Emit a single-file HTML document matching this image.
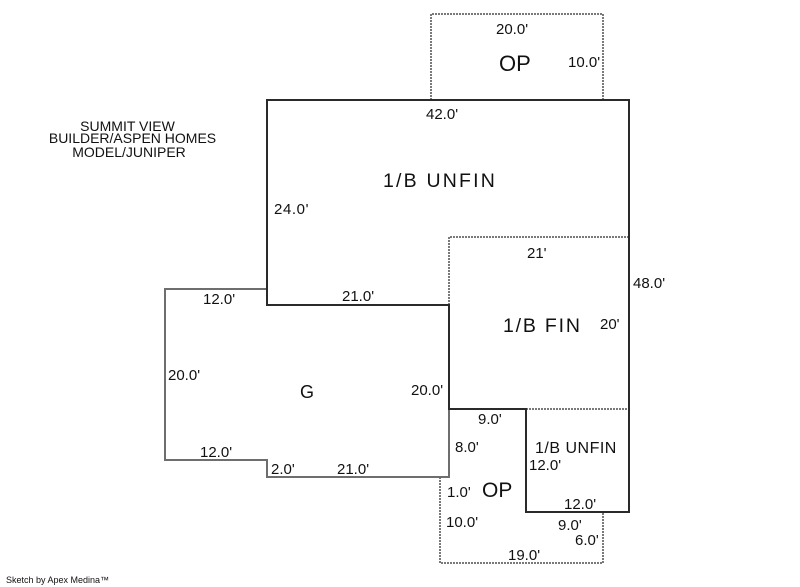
<!DOCTYPE html>
<html>
<head>
<meta charset="utf-8">
<style>
  html,body{margin:0;padding:0;background:#fff;}
  svg{display:block;}
  text{font-family:"Liberation Sans", Arial, sans-serif; fill:#111;}
  .d{font-size:15px;}
  .big{font-size:19.5px; letter-spacing:2.2px;}
  .t{font-size:14px;}
</style>
</head>
<body>
<svg width="800" height="587" viewBox="0 0 800 587" xmlns="http://www.w3.org/2000/svg">
  <rect width="800" height="587" fill="#fff"/>
  <!-- dotted lines -->
  <g fill="none" stroke="#7a7a7a" stroke-width="2" stroke-dasharray="2 1">
    <path d="M431,100 V14 H603 V100"/>
    <path d="M449,305 V237 H629"/>
    <path d="M526,409 H629"/>
    <path d="M440,477 V563 H603 V512"/>
  </g>
  <!-- garage gray -->
  <path d="M267,289 H165 V460 H267 V477 H449 V409" fill="none" stroke="#6e6e6e" stroke-width="2"/>
  <!-- main outline -->
  <path d="M267,100 H629 V512 H526 V409 H449 V305 H267 Z" fill="none" stroke="#2a2a2a" stroke-width="2"/>

  <!-- title text -->
  <text class="t" x="127.5" y="131" text-anchor="middle">SUMMIT VIEW</text>
  <text class="t" x="132.5" y="143" text-anchor="middle">BUILDER/ASPEN HOMES</text>
  <text class="t" x="129" y="157" text-anchor="middle">MODEL/JUNIPER</text>

  <!-- top OP -->
  <text class="d" x="496" y="34">20.0'</text>
  <text x="499" y="71" style="font-size:22px">OP</text>
  <text class="d" x="568" y="67">10.0'</text>

  <!-- main -->
  <text class="d" x="426" y="119">42.0'</text>
  <text class="big" x="383" y="187">1/B UNFIN</text>
  <text class="d" x="274" y="214" style="letter-spacing:0.6px">24.0'</text>
  <text class="d" x="527" y="258">21'</text>
  <text class="d" x="633" y="288">48.0'</text>
  <text class="big" x="503" y="332" style="letter-spacing:1.8px">1/B FIN</text>
  <text class="d" x="600" y="329">20'</text>

  <!-- garage -->
  <text class="d" x="203" y="304">12.0'</text>
  <text class="d" x="342" y="301">21.0'</text>
  <text class="d" x="168" y="380">20.0'</text>
  <text x="300" y="398" style="font-size:18px">G</text>
  <text class="d" x="411" y="395">20.0'</text>
  <text class="d" x="200" y="457">12.0'</text>
  <text class="d" x="271" y="474">2.0'</text>
  <text class="d" x="337" y="474">21.0'</text>

  <!-- lower area -->
  <text class="d" x="478" y="424">9.0'</text>
  <text class="d" x="455" y="452">8.0'</text>
  <text x="535" y="453" style="font-size:16px;letter-spacing:0.5px">1/B UNFIN</text>
  <text class="d" x="529" y="470">12.0'</text>
  <text class="d" x="447" y="497">1.0'</text>
  <text x="482" y="497" style="font-size:21px">OP</text>
  <text class="d" x="564" y="509">12.0'</text>
  <text class="d" x="446" y="527">10.0'</text>
  <text class="d" x="558" y="530">9.0'</text>
  <text class="d" x="575" y="545">6.0'</text>
  <text class="d" x="508" y="560">19.0'</text>

  <!-- credit -->
  <text x="6" y="583" style="font-size:9px">Sketch by Apex Medina™</text>
</svg>
</body>
</html>
